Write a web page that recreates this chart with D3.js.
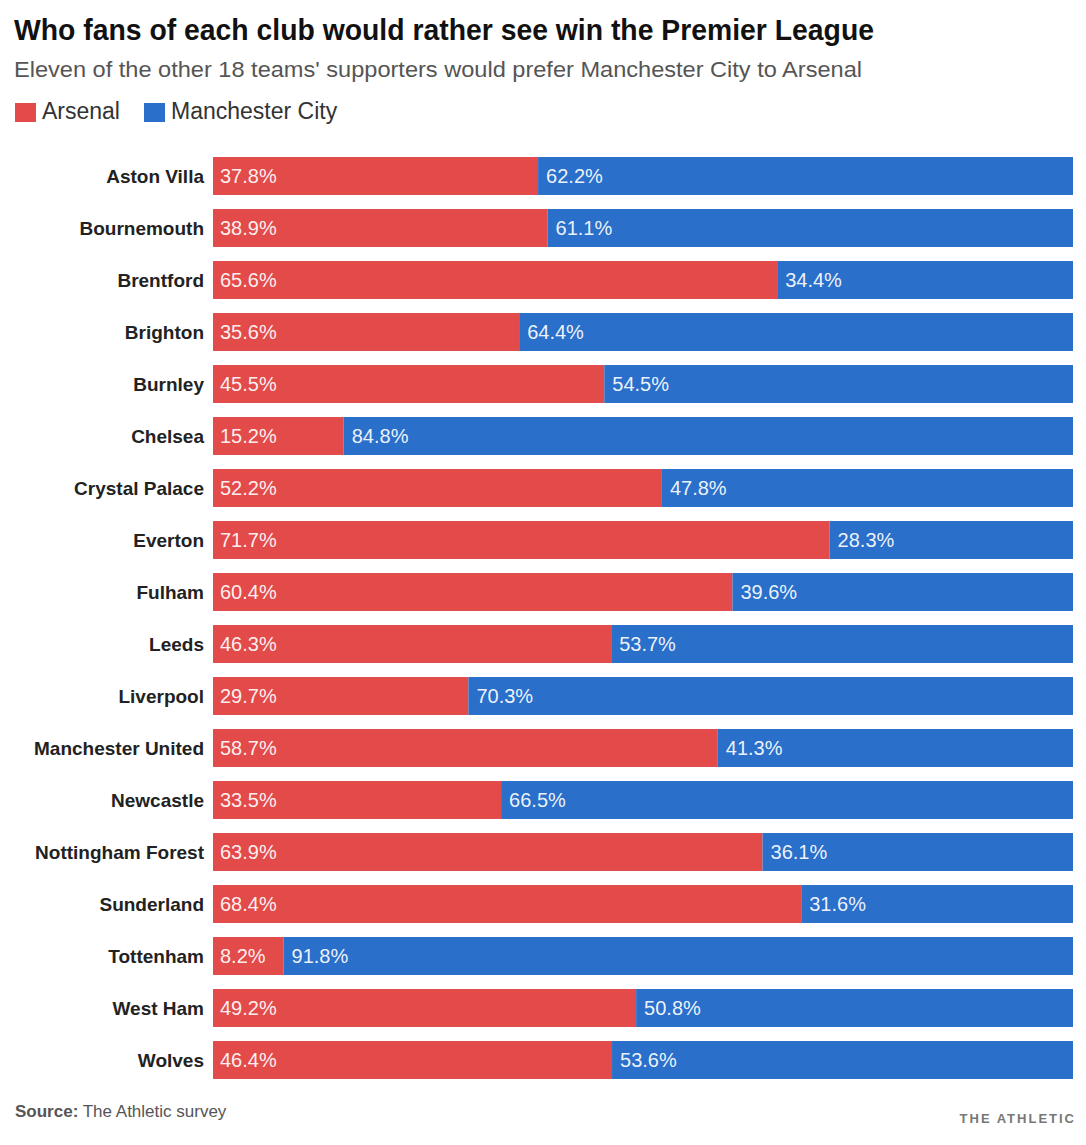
<html>
<head>
<meta charset="utf-8">
<style>
  body { margin: 0; background: #fff; }
  text { font-family: "Liberation Sans", Arial, sans-serif; }
</style>
</head>
<body>
<svg id="chart" width="1086" height="1145"></svg>
<script src="https://cdn.jsdelivr.net/npm/d3@7"></script>
<script>
    // data
    let teams = ["Aston Villa", "Bournemouth", "Brentford", "Brighton", "Burnley", "Chelsea",
        "Crystal Palace", "Everton", "Fulham", "Leeds", "Liverpool", "Manchester United",
        "Newcastle", "Nottingham Forest", "Sunderland", "Tottenham", "West Ham", "Wolves"]
    let arsenal = [37.8, 38.9, 65.6, 35.6, 45.5, 15.2, 52.2, 71.7, 60.4, 46.3, 29.7, 58.7,
        33.5, 63.9, 68.4, 8.2, 49.2, 46.4]
    let manCity = [62.2, 61.1, 34.4, 64.4, 54.5, 84.8, 47.8, 28.3, 39.6, 53.7, 70.3, 41.3,
        66.5, 36.1, 31.6, 91.8, 50.8, 53.6]
    let seriesNames = ["Arsenal", "Manchester City"]
    let colors = ["#e34b4b", "#2a6fca"]

    let svg = d3.select("#chart")

    // title, subtitle
    svg.append("text")
        .attr("x", 14).attr("y", 40)
        .attr("font-size", 29).attr("font-weight", "bold").attr("fill", "#111")
        .attr("textLength", 860).attr("lengthAdjust", "spacingAndGlyphs")
        .text("Who fans of each club would rather see win the Premier League")

    svg.append("text")
        .attr("x", 14).attr("y", 77)
        .attr("font-size", 22).attr("fill", "#555")
        .attr("textLength", 848).attr("lengthAdjust", "spacingAndGlyphs")
        .text("Eleven of the other 18 teams' supporters would prefer Manchester City to Arsenal")

    // legend
    let legendX = [15, 144]
    let legend = svg.selectAll("g.legend")
        .data(seriesNames)
        .enter().append("g")
        .attr("class", "legend")
        .attr("transform", (d, i) => `translate(${legendX[i]},103)`)
    legend.append("rect")
        .attr("width", 21).attr("height", 19)
        .attr("fill", (d, i) => colors[i])
    legend.append("text")
        .attr("x", 27).attr("y", 16)
        .attr("font-size", 23).attr("fill", "#333")
        .text(d => d)

    // scales
    let x = d3.scaleLinear().domain([0, 100]).range([213, 1073])
    let y = d3.scaleBand().domain(teams).range([150, 1086])
        .paddingInner(0.27).paddingOuter(0.135)

    let rows = svg.selectAll("g.row")
        .data(teams)
        .enter().append("g")
        .attr("class", "row")
        .attr("transform", d => `translate(0,${y(d)})`)

    let bh = y.bandwidth()

    rows.append("text")
        .attr("x", 204).attr("y", bh / 2)
        .attr("dy", "0.35em")
        .attr("text-anchor", "end")
        .attr("font-size", 19).attr("font-weight", "bold").attr("fill", "#222")
        .text(d => d)

    // arsenal part
    rows.append("rect")
        .attr("x", x(0))
        .attr("width", (d, i) => x(arsenal[i]) - x(0))
        .attr("height", bh)
        .attr("fill", colors[0])

    // man city part
    rows.append("rect")
        .attr("x", (d, i) => x(arsenal[i]))
        .attr("width", (d, i) => x(arsenal[i] + manCity[i]) - x(arsenal[i]))
        .attr("height", bh)
        .attr("fill", colors[1])

    rows.append("text")
        .attr("x", x(0) + 7).attr("y", bh / 2)
        .attr("dy", "0.35em")
        .attr("font-size", 20).attr("fill", "#fff").attr("fill-opacity", 0.93)
        .text((d, i) => arsenal[i].toFixed(1) + "%")

    rows.append("text")
        .attr("x", (d, i) => x(arsenal[i]) + 8).attr("y", bh / 2)
        .attr("dy", "0.35em")
        .attr("font-size", 20).attr("fill", "#fff").attr("fill-opacity", 0.93)
        .text((d, i) => manCity[i].toFixed(1) + "%")

    // footer
    let src = svg.append("text")
        .attr("x", 15).attr("y", 1117)
        .attr("font-size", 17).attr("fill", "#555")
    src.append("tspan").attr("font-weight", "bold").text("Source:")
    src.append("tspan").text(" The Athletic survey")

    svg.append("text")
        .attr("x", 1076).attr("y", 1123)
        .attr("text-anchor", "end")
        .attr("font-size", 13).attr("font-weight", "bold")
        .attr("letter-spacing", 2).attr("fill", "#777")
        .text("THE ATHLETIC")
</script>
</body>
</html>
